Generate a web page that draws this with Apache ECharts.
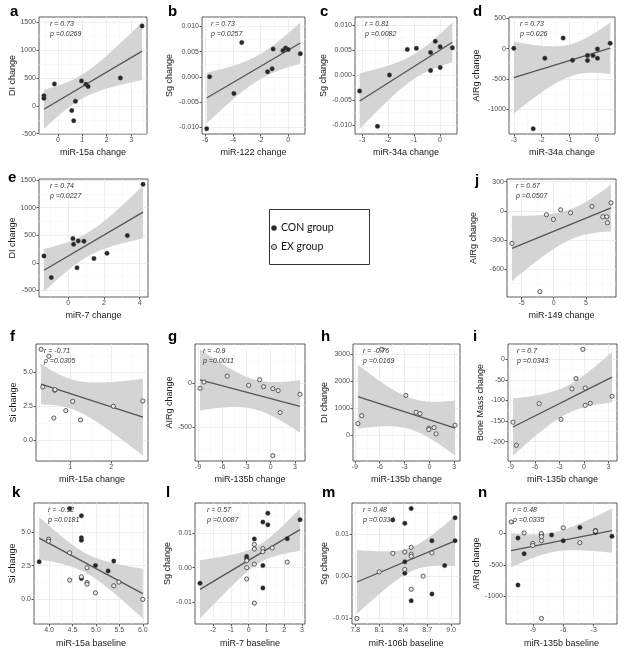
<!DOCTYPE html>
<html>
<head>
<meta charset="utf-8">
<script src="https://cdn.jsdelivr.net/npm/echarts@6/dist/echarts.min.js"></script>
<style>
html, body { margin: 0; padding: 0; background: #fff; }
#main { width: 626px; height: 655px; }
</style>
</head>
<body>
<div id="main"></div>
<script>
// ---- data: [x, y] ----
var aCon = [[-0.57,183],[-0.57,136],[-0.14,396],[0.97,450],[1.15,390],[1.24,349],[0.72,85],[0.57,-83],[0.65,-266],[2.56,503],[3.45,1438]];
var bCon = [[-5.9,-0.0103],[-5.69,0.0],[-3.93,-0.0033],[-3.36,0.0068],[-1.49,0.001],[-1.16,0.0016],[-1.09,0.0055],[-0.38,0.0052],[-0.19,0.0057],[0,0.0054],[0.88,0.0046]];
var cCon = [[-3.1,-0.0032],[-2.41,-0.0102],[-1.95,0.0],[-1.26,0.0051],[-0.91,0.0053],[-0.36,0.0045],[-0.36,0.0009],[-0.18,0.0067],[0.01,0.0056],[0.01,0.0015],[0.48,0.0054]];
var dCon = [[-3.0,5],[-2.3,-1325],[-1.88,-158],[-1.22,174],[-0.88,-191],[-0.34,-115],[-0.34,-196],[-0.14,-115],[0.02,-5],[0.02,-158],[0.48,87]];
var eCon = [[-1.36,127],[-0.95,-265],[0.26,440],[0.3,337],[0.56,398],[0.88,392],[0.49,-90],[1.44,78],[2.17,175],[3.31,494],[4.19,1422]];
var jEx = [[-6.5,-337],[-2.15,-835],[-1.13,-41],[-0.05,-89],[1.08,10],[2.62,-21],[5.95,45],[7.64,-62],[8.26,-62],[8.36,-124],[8.92,82]];
var fEx = [[0.29,6.66],[0.48,6.15],[0.33,3.9],[0.62,3.66],[0.63,3.71],[0.6,1.63],[0.89,2.17],[1.06,2.85],[1.25,1.49],[2.05,2.49],[2.77,2.88]];
var gEx = [[-8.75,-60],[-8.26,11],[-5.39,79],[-2.73,-26],[-1.38,38],[-0.89,-41],[0.26,-64],[0.92,-86],[1.16,-335],[0.26,-827],[3.62,-128]];
var hEx = [[-8.64,418],[-8.17,713],[-5.75,3170],[-2.85,1464],[-1.62,836],[-1.14,787],[-0.07,246],[-0.07,197],[0.56,271],[0.8,37],[3.1,357]];
var iEx = [[-8.72,-153],[-8.31,-209],[-5.5,-108],[-2.82,-146],[-1.48,-72],[-0.99,-47],[0.15,-70],[0.15,-112],[0.76,-107],[-0.14,24],[3.44,-90]];
var kCon = [[3.79,2.79],[4.44,6.77],[4.69,6.22],[4.69,4.58],[4.69,4.4],[4.69,1.54],[4.99,2.51],[5.26,2.11],[5.38,2.84]];
var kEx = [[3.99,4.48],[3.99,4.33],[4.44,3.46],[4.44,1.42],[4.69,1.67],[4.81,2.34],[4.81,1.24],[4.81,1.12],[4.99,0.47],[5.38,1.0],[5.49,1.27],[6.0,-0.02]];
var lCon = [[-2.74,-0.0045],[-0.11,0.0032],[-0.11,0.0026],[0.32,0.0083],[0.8,0.0132],[1.08,0.0158],[1.08,0.0124],[0.8,0.0006],[0.8,-0.0059],[2.17,0.0084],[2.89,0.0139]];
var lEx = [[-0.11,0.002],[-0.11,0.0],[-0.11,-0.0033],[0.32,0.0067],[0.32,0.0054],[0.32,0.001],[0.32,-0.0103],[0.8,0.0055],[0.8,0.0046],[1.33,0.0057],[2.17,0.0016]];
var mCon = [[8.27,0.0133],[8.42,0.0125],[8.5,0.016],[8.42,0.0034],[8.42,0.0007],[8.5,-0.0058],[8.76,0.0084],[8.76,-0.0042],[8.92,0.0025],[9.05,0.0138],[9.05,0.0084]];
var mEx = [[7.82,-0.01],[8.1,0.001],[8.27,0.0054],[8.42,0.0057],[8.42,0.0016],[8.5,0.0068],[8.5,0.0052],[8.5,0.0047],[8.5,-0.0031],[8.65,0.0],[8.76,0.0055]];
var nCon = [[-10.46,-76],[-9.85,-324],[-10.46,-822],[-8.15,-22],[-7.14,-27],[-6.0,-119],[-4.36,92],[-2.83,43],[-2.83,11],[-1.2,-49]];
var nEx = [[-11.14,178],[-9.85,5],[-9.0,-162],[-9.0,-195],[-8.15,-5],[-8.15,-54],[-8.15,-119],[-6.0,86],[-4.36,-151],[-2.83,32],[-8.15,-1351]];

// tick labels
var tDI = [-500,0,500,1000,1500];
var tSg3 = [-0.010,-0.005,0,0.005,0.010];
var tSg2 = [-0.01,0,0.01];
var tSi = [0,2.5,5];
var tNeg9 = [-9,-6,-3,0,3];

// 95% t quantiles by degrees of freedom
var T95 = {8:2.306, 9:2.262, 10:2.228, 18:2.101, 19:2.093, 20:2.086};

var FONT = '"Liberation Sans", Arial, sans-serif';

var panels = [
  {tag:'a', tx:10, ty:12, box:[39,17,108,117], con:aCon, xt:[0,1,2,3], yt:tDI, xd:0, yd:0, xn:'miR-15a change', yn:'DI change', yg:22, r:'r = 0.73', p:'p =0.0269', rx:11},
  {tag:'b', tx:168, ty:12, box:[202,17,103,117], con:bCon, xt:[-6,-4,-2,0], yt:tSg3, xd:0, yd:3, xn:'miR-122 change', yn:'Sg change', yg:28, r:'r = 0.73', p:'p =0.0257', rx:9},
  {tag:'c', tx:320, ty:12, box:[355,17,102,117], con:cCon, xt:[-3,-2,-1,0], yt:tSg3, xd:0, yd:3, xn:'miR-34a change', yn:'Sg change', yg:27, r:'r = 0.81', p:'p =0.0082', rx:10},
  {tag:'d', tx:473, ty:12, box:[509,17,106,117], con:dCon, xt:[-3,-2,-1,0], yt:[-1000,-500,0,500], xd:0, yd:0, xn:'miR-34a change', yn:'AIRg change', yg:28, r:'r = 0.73', p:'p =0.026', rx:11},
  {tag:'e', tx:8, ty:178, box:[39,179,109,118], con:eCon, xt:[0,2,4], yt:tDI, xd:0, yd:0, xn:'miR-7 change', yn:'DI change', yg:22, r:'r = 0.74', p:'p =0.0227', rx:11},
  {tag:'j', tx:475, ty:181, box:[507,179,109,118], ex:jEx, xt:[-5,0,5], yt:[-600,-300,0,300], xd:0, yd:0, xn:'miR-149 change', yn:'AIRg change', yg:29, r:'r = 0.67', p:'p =0.0507', rx:9},
  {tag:'f', tx:10, ty:337, box:[36,344,112,117], ex:fEx, xt:[1,2], yt:tSi, xd:0, yd:1, xn:'miR-15a change', yn:'Si change', yg:18, r:'r = -0.71', p:'p =0.0305', rx:8},
  {tag:'g', tx:168, ty:337, box:[195,344,110,117], ex:gEx, xt:tNeg9, yt:[-500,0], xd:0, yd:0, xn:'miR-135b change', yn:'AIRg change', yg:20, r:'r = -0.9', p:'p =0.0011', rx:8},
  {tag:'h', tx:321, ty:337, box:[353,344,107,117], ex:hEx, xt:tNeg9, yt:[0,1000,2000,3000], xd:0, yd:0, xn:'miR-135b change', yn:'DI change', yg:24, r:'r = -0.76', p:'p =0.0169', rx:10},
  {tag:'i', tx:473, ty:337, box:[508,344,109,117], ex:iEx, xt:tNeg9, yt:[-200,-150,-100,-50,0], xd:0, yd:0, xn:'miR-135b change', yn:'Bone Mass change', yg:23, r:'r = 0.7', p:'p =0.0343', rx:9},
  {tag:'k', tx:12, ty:493, box:[34,503,114,121], con:kCon, ex:kEx, xt:[4,4.5,5,5.5,6], yt:tSi, xd:1, yd:1, xn:'miR-15a baseline', yn:'Si change', yg:16, r:'r = -0.52', p:'p =0.0181', rx:14},
  {tag:'l', tx:166, ty:493, box:[195,503,110,121], con:lCon, ex:lEx, xt:[-2,-1,0,1,2,3], yt:tSg2, xd:0, yd:2, xn:'miR-7 baseline', yn:'Sg change', yg:21, r:'r = 0.57', p:'p =0.0087', rx:12},
  {tag:'m', tx:322, ty:493, box:[352,503,108,121], con:mCon, ex:mEx, xt:[7.8,8.1,8.4,8.7,9.0], yt:tSg2, xd:1, yd:2, xn:'miR-106b baseline', yn:'Sg change', yg:22, r:'r = 0.48', p:'p =0.0334', rx:11},
  {tag:'n', tx:478, ty:493, box:[506,503,111,121], con:nCon, ex:nEx, xt:[-9,-6,-3], yt:[-1000,-500,0], xd:0, yd:0, xn:'miR-135b baseline', yn:'AIRg change', yg:20, r:'r = 0.48', p:'p =0.0335', rx:7}
];

// least-squares line and 95% confidence band, like geom_smooth(method = lm)
function smooth(pts) {
  var n = pts.length, mx = 0, my = 0;
  pts.forEach(function (p) { mx += p[0]; my += p[1]; });
  mx /= n; my /= n;
  var sxx = 0, sxy = 0;
  pts.forEach(function (p) { sxx += (p[0]-mx)*(p[0]-mx); sxy += (p[0]-mx)*(p[1]-my); });
  var b = sxy / sxx, a = my - b * mx, sse = 0;
  pts.forEach(function (p) { var e = p[1] - a - b * p[0]; sse += e * e; });
  var s = Math.sqrt(sse / (n - 2)), t = T95[n - 2];
  var xs = pts.map(function (p) { return p[0]; });
  var x0 = Math.min.apply(null, xs), x1 = Math.max.apply(null, xs);
  var band = [];
  for (var i = 0; i < 80; i++) {
    var x = x0 + (x1 - x0) * i / 79, yf = a + b * x;
    var se = s * Math.sqrt(1 / n + (x - mx) * (x - mx) / sxx);
    band.push([x, yf - t * se, yf + t * se]);
  }
  return { line: [[x0, a + b * x0], [x1, a + b * x1]], band: band };
}

function minors(ticks, lo, hi) {
  var step = ticks.length > 1 ? ticks[1] - ticks[0] : 1, out = [];
  for (var v = ticks[0] - step / 2; v <= ticks[ticks.length - 1] + step; v += step) {
    if (v > lo && v < hi) out.push(v);
  }
  return out;
}

var grids = [], xAxes = [], yAxes = [], series = [], graphics = [];

panels.forEach(function (P, i) {
  var pts = (P.con || []).concat(P.ex || []);
  var sm = smooth(pts);
  var xs = pts.map(function (p) { return p[0]; });
  var ys = pts.map(function (p) { return p[1]; });
  sm.band.forEach(function (b) { ys.push(b[1], b[2]); });
  var xlo = Math.min.apply(null, xs), xhi = Math.max.apply(null, xs);
  var ylo = Math.min.apply(null, ys), yhi = Math.max.apply(null, ys);
  var xp = (xhi - xlo) * 0.05, yp = (yhi - ylo) * 0.05;
  xlo -= xp; xhi += xp; ylo -= yp; yhi += yp;

  grids.push({ left: P.box[0], top: P.box[1], width: P.box[2], height: P.box[3],
    show: true, backgroundColor: '#fff', borderColor: '#333', borderWidth: 0.8 });

  function mainAxis(ticks, dec, name, gap, isX) {
    return {
      type: 'value', gridIndex: i, min: isX ? xlo : ylo, max: isX ? xhi : yhi,
      position: isX ? 'bottom' : 'left',
      name: name, nameLocation: 'middle', nameGap: gap,
      nameTextStyle: { fontSize: 9, color: '#1a1a1a', fontFamily: FONT },
      axisLine: { show: false, onZero: false },
      axisTick: { show: true, length: 2.5, customValues: ticks, lineStyle: { color: '#333', width: 0.8 } },
      axisLabel: { customValues: ticks, fontSize: 7, color: '#4d4d4d', fontFamily: FONT, margin: 3,
        formatter: function (v) { return Number(v).toFixed(dec); } },
      splitLine: { show: true, lineStyle: { color: '#e6e6e6', width: 0.7 } }
    };
  }
  function minorAxis(ticks, isX) {
    var lo = isX ? xlo : ylo, hi = isX ? xhi : yhi;
    var m = minors(ticks, lo, hi);
    return {
      type: 'value', gridIndex: i, min: lo, max: hi, position: isX ? 'top' : 'right',
      axisLine: { show: false, onZero: false },
      axisTick: { show: false, customValues: m },
      axisLabel: { show: false, customValues: m },
      splitLine: { show: true, lineStyle: { color: '#f2f2f2', width: 0.5 } }
    };
  }
  xAxes.push(mainAxis(P.xt, P.xd, P.xn, P.tag >= 'k' ? 15 : 14, true), minorAxis(P.xt, true));
  yAxes.push(mainAxis(P.yt, P.yd, P.yn, P.yg, false), minorAxis(P.yt, false));
  var ax = 2 * i;

  var band = sm.band;
  series.push({
    type: 'custom', xAxisIndex: ax, yAxisIndex: ax, silent: true, clip: true, z: 1,
    data: [[band[0][0], band[0][1]]],
    renderItem: function (params, api) {
      var poly = [];
      for (var k = 0; k < band.length; k++) poly.push(api.coord([band[k][0], band[k][2]]));
      for (var k2 = band.length - 1; k2 >= 0; k2--) poly.push(api.coord([band[k2][0], band[k2][1]]));
      return { type: 'polygon', shape: { points: poly }, style: { fill: '#d4d4d4' } };
    }
  });
  series.push({
    type: 'line', xAxisIndex: ax, yAxisIndex: ax, data: sm.line, showSymbol: false, silent: true, z: 2,
    lineStyle: { color: '#555', width: 1.3 }
  });
  if (P.con) series.push({
    type: 'scatter', xAxisIndex: ax, yAxisIndex: ax, data: P.con, symbolSize: 4.5, z: 3,
    itemStyle: { color: '#262626', borderColor: '#555', borderWidth: 0.4, opacity: 1 }
  });
  if (P.ex) series.push({
    type: 'scatter', xAxisIndex: ax, yAxisIndex: ax, data: P.ex, symbolSize: 4.2, z: 3,
    itemStyle: { color: '#e8e8e8', borderColor: '#3a3a3a', borderWidth: 0.8, opacity: 1 }
  });

  graphics.push({ type: 'text', x: P.tx, y: P.ty, z: 10,
    style: { text: P.tag, fontSize: 15, fontWeight: 'bold', fontFamily: FONT, fill: '#000', verticalAlign: 'middle' } });
  graphics.push({ type: 'text', x: P.box[0] + P.rx, y: P.box[1] + 7, z: 10,
    style: { text: P.r, fontSize: 7, fontStyle: 'italic', fontFamily: FONT, fill: '#333', verticalAlign: 'middle' } });
  graphics.push({ type: 'text', x: P.box[0] + P.rx, y: P.box[1] + 17, z: 10,
    style: { text: P.p, fontSize: 7, fontStyle: 'italic', fontFamily: FONT, fill: '#333', verticalAlign: 'middle' } });
});

// legend box
graphics.push({ type: 'rect', shape: { x: 269.5, y: 209.5, width: 100, height: 55 }, z: 10,
  style: { fill: '#fff', stroke: '#333', lineWidth: 1 } });
graphics.push({ type: 'circle', shape: { cx: 274, cy: 228, r: 2.6 }, z: 11,
  style: { fill: '#262626', stroke: '#555', lineWidth: 0.5 } });
graphics.push({ type: 'circle', shape: { cx: 274, cy: 247, r: 2.6 }, z: 11,
  style: { fill: '#cfcfcf', stroke: '#333', lineWidth: 0.9 } });
graphics.push({ type: 'text', x: 281, y: 228, z: 11,
  style: { text: 'CON group', fontSize: 10.5, fontFamily: 'Lato, "Liberation Sans", sans-serif', fill: '#111', verticalAlign: 'middle' } });
graphics.push({ type: 'text', x: 281, y: 247, z: 11,
  style: { text: 'EX group', fontSize: 10.5, fontFamily: 'Lato, "Liberation Sans", sans-serif', fill: '#111', verticalAlign: 'middle' } });

var myChart = echarts.init(document.getElementById('main'));
myChart.setOption({
  animation: false,
  backgroundColor: '#fff',
  textStyle: { fontFamily: FONT },
  grid: grids,
  xAxis: xAxes,
  yAxis: yAxes,
  series: series,
  graphic: graphics
});
</script>
</body>
</html>
